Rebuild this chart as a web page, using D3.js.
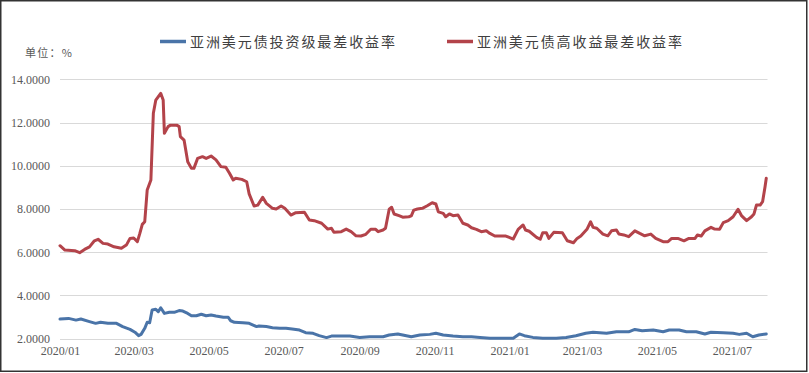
<!DOCTYPE html>
<html>
<head>
<meta charset="utf-8">
<script src="https://cdn.jsdelivr.net/npm/d3@7"></script>
<style>
  body { margin: 0; background: #fff; }
</style>
</head>
<body>
<svg id="chart" width="809" height="373"></svg>
<script>
var seriesNames = ["亚洲美元债投资级最差收益率", "亚洲美元债高收益最差收益率"];
var unitLabel = "单位：%";
var yTicks = [2, 4, 6, 8, 10, 12, 14];

// 投资级 (blue)
var igData = [
  ["2020-01-01", 2.91], ["2020-01-08", 2.94], ["2020-01-14", 2.86], ["2020-01-18", 2.91],
  ["2020-01-25", 2.79], ["2020-01-30", 2.71], ["2020-02-03", 2.76], ["2020-02-09", 2.71],
  ["2020-02-16", 2.71], ["2020-02-21", 2.56], ["2020-02-27", 2.43], ["2020-03-02", 2.30],
  ["2020-03-05", 2.14], ["2020-03-07", 2.20], ["2020-03-10", 2.48], ["2020-03-12", 2.76],
  ["2020-03-14", 2.74], ["2020-03-16", 3.33], ["2020-03-19", 3.36], ["2020-03-21", 3.25],
  ["2020-03-23", 3.43], ["2020-03-26", 3.17], ["2020-03-30", 3.22], ["2020-04-03", 3.22],
  ["2020-04-07", 3.30], ["2020-04-10", 3.28], ["2020-04-14", 3.17], ["2020-04-17", 3.06],
  ["2020-04-21", 3.06], ["2020-04-25", 3.13], ["2020-04-29", 3.06], ["2020-05-03", 3.10],
  ["2020-05-07", 3.05], ["2020-05-13", 2.99], ["2020-05-17", 2.99], ["2020-05-19", 2.83],
  ["2020-05-22", 2.76], ["2020-05-29", 2.74], ["2020-06-03", 2.71], ["2020-06-09", 2.56],
  ["2020-06-11", 2.59], ["2020-06-17", 2.56], ["2020-06-22", 2.51], ["2020-06-28", 2.48],
  ["2020-07-03", 2.48], ["2020-07-08", 2.45], ["2020-07-14", 2.40], ["2020-07-19", 2.28],
  ["2020-07-25", 2.25], ["2020-07-30", 2.14], ["2020-08-05", 2.05], ["2020-08-09", 2.12],
  ["2020-08-15", 2.12], ["2020-08-24", 2.12], ["2020-09-01", 2.06], ["2020-09-09", 2.09],
  ["2020-09-20", 2.09], ["2020-09-25", 2.17], ["2020-10-02", 2.22], ["2020-10-06", 2.17],
  ["2020-10-13", 2.09], ["2020-10-20", 2.17], ["2020-10-28", 2.20], ["2020-11-02", 2.25],
  ["2020-11-08", 2.17], ["2020-11-16", 2.12], ["2020-11-24", 2.09], ["2020-12-01", 2.09],
  ["2020-12-08", 2.06], ["2020-12-16", 2.02], ["2020-12-24", 2.02], ["2021-01-04", 2.02],
  ["2021-01-09", 2.22], ["2021-01-13", 2.14], ["2021-01-20", 2.06], ["2021-01-28", 2.02],
  ["2021-02-08", 2.02], ["2021-02-16", 2.06], ["2021-02-24", 2.14], ["2021-03-04", 2.25],
  ["2021-03-10", 2.30], ["2021-03-21", 2.25], ["2021-03-29", 2.32], ["2021-04-08", 2.32],
  ["2021-04-13", 2.43], ["2021-04-19", 2.37], ["2021-04-28", 2.40], ["2021-05-06", 2.32],
  ["2021-05-11", 2.40], ["2021-05-19", 2.40], ["2021-05-25", 2.32], ["2021-06-02", 2.32],
  ["2021-06-09", 2.22], ["2021-06-14", 2.30], ["2021-06-24", 2.28], ["2021-07-02", 2.25],
  ["2021-07-07", 2.20], ["2021-07-13", 2.25], ["2021-07-18", 2.09], ["2021-07-23", 2.17],
  ["2021-07-29", 2.22]
];

// 高收益 (red)
var hyData = [
  ["2020-01-01", 6.30], ["2020-01-05", 6.10], ["2020-01-13", 6.07], ["2020-01-17", 5.98],
  ["2020-01-21", 6.13], ["2020-01-25", 6.25], ["2020-01-29", 6.53], ["2020-02-01", 6.60],
  ["2020-02-05", 6.41], ["2020-02-09", 6.38], ["2020-02-14", 6.25], ["2020-02-20", 6.18],
  ["2020-02-24", 6.33], ["2020-02-27", 6.64], ["2020-03-01", 6.66], ["2020-03-04", 6.49],
  ["2020-03-06", 6.87], ["2020-03-08", 7.29], ["2020-03-10", 7.41], ["2020-03-12", 8.88],
  ["2020-03-15", 9.34], ["2020-03-17", 12.43], ["2020-03-19", 13.04], ["2020-03-23", 13.35],
  ["2020-03-25", 13.04], ["2020-03-26", 11.50], ["2020-03-29", 11.81], ["2020-03-31", 11.88],
  ["2020-04-05", 11.88], ["2020-04-07", 11.81], ["2020-04-08", 11.35], ["2020-04-11", 11.19],
  ["2020-04-14", 10.19], ["2020-04-17", 9.88], ["2020-04-19", 9.88], ["2020-04-22", 10.34],
  ["2020-04-26", 10.42], ["2020-04-29", 10.34], ["2020-05-03", 10.45], ["2020-05-07", 10.27],
  ["2020-05-11", 9.96], ["2020-05-15", 9.93], ["2020-05-18", 9.65], ["2020-05-21", 9.34],
  ["2020-05-23", 9.42], ["2020-05-28", 9.37], ["2020-06-01", 9.26], ["2020-06-03", 8.70],
  ["2020-06-07", 8.14], ["2020-06-10", 8.18], ["2020-06-14", 8.54], ["2020-06-17", 8.26],
  ["2020-06-22", 8.03], ["2020-06-25", 8.00], ["2020-06-29", 8.14], ["2020-07-02", 8.03],
  ["2020-07-07", 7.72], ["2020-07-11", 7.83], ["2020-07-18", 7.85], ["2020-07-22", 7.49],
  ["2020-07-26", 7.46], ["2020-08-01", 7.34], ["2020-08-06", 7.07], ["2020-08-09", 7.11],
  ["2020-08-11", 6.92], ["2020-08-17", 6.95], ["2020-08-21", 7.07], ["2020-08-25", 6.95],
  ["2020-08-29", 6.76], ["2020-09-02", 6.75], ["2020-09-06", 6.83], ["2020-09-10", 7.06],
  ["2020-09-14", 7.06], ["2020-09-16", 6.95], ["2020-09-20", 7.03], ["2020-09-22", 7.11],
  ["2020-09-25", 7.99], ["2020-09-27", 8.08], ["2020-09-29", 7.77], ["2020-10-03", 7.69],
  ["2020-10-06", 7.62], ["2020-10-11", 7.64], ["2020-10-13", 7.68], ["2020-10-15", 7.95],
  ["2020-10-18", 8.00], ["2020-10-22", 8.03], ["2020-10-26", 8.15], ["2020-10-30", 8.29],
  ["2020-11-02", 8.23], ["2020-11-04", 7.87], ["2020-11-08", 7.80], ["2020-11-10", 7.64],
  ["2020-11-13", 7.77], ["2020-11-16", 7.69], ["2020-11-20", 7.72], ["2020-11-24", 7.34],
  ["2020-11-28", 7.26], ["2020-12-01", 7.13], ["2020-12-05", 7.06], ["2020-12-09", 6.95],
  ["2020-12-13", 6.99], ["2020-12-16", 6.87], ["2020-12-20", 6.75], ["2020-12-29", 6.75],
  ["2021-01-04", 6.61], ["2021-01-08", 7.06], ["2021-01-12", 7.26], ["2021-01-14", 7.03],
  ["2021-01-17", 6.97], ["2021-01-23", 6.69], ["2021-01-26", 6.60], ["2021-01-28", 6.90],
  ["2021-01-31", 6.90], ["2021-02-02", 6.64], ["2021-02-06", 6.92], ["2021-02-13", 6.90],
  ["2021-02-17", 6.53], ["2021-02-22", 6.44], ["2021-02-25", 6.64], ["2021-02-28", 6.75],
  ["2021-03-05", 7.06], ["2021-03-08", 7.41], ["2021-03-10", 7.15], ["2021-03-13", 7.11],
  ["2021-03-18", 6.84], ["2021-03-22", 6.76], ["2021-03-25", 6.99], ["2021-03-29", 7.03],
  ["2021-03-31", 6.84], ["2021-04-04", 6.80], ["2021-04-08", 6.72], ["2021-04-13", 6.99],
  ["2021-04-17", 6.87], ["2021-04-21", 6.76], ["2021-04-26", 6.84], ["2021-04-30", 6.64],
  ["2021-05-06", 6.49], ["2021-05-10", 6.49], ["2021-05-13", 6.64], ["2021-05-18", 6.64],
  ["2021-05-23", 6.53], ["2021-05-27", 6.64], ["2021-06-01", 6.64], ["2021-06-03", 6.80],
  ["2021-06-06", 6.75], ["2021-06-09", 6.99], ["2021-06-14", 7.15], ["2021-06-17", 7.07],
  ["2021-06-21", 7.06], ["2021-06-24", 7.37], ["2021-06-28", 7.46], ["2021-07-02", 7.64],
  ["2021-07-06", 7.99], ["2021-07-09", 7.68], ["2021-07-13", 7.46], ["2021-07-17", 7.64],
  ["2021-07-19", 7.77], ["2021-07-21", 8.18], ["2021-07-24", 8.18], ["2021-07-26", 8.34],
  ["2021-07-28", 9.03], ["2021-07-29", 9.42]
];

var colors = ["#4a74a8", "#b3434a"];

var parseDate = d3.timeParse("%Y-%m-%d");
var svg = d3.select("#chart");

// outer frame
svg.append("rect")
    .attr("x", 0.75).attr("y", 0.75)
    .attr("width", 806).attr("height", 370.5)
    .attr("fill", "#fff")
    .attr("stroke", "#333")
    .attr("stroke-width", 1.5);

var x = d3.scaleTime()
    .domain([parseDate("2020-01-01"), parseDate("2021-07-30")])
    .range([60, 767.5]);
var y = d3.scaleLinear().domain([2, 14]).range([338.7, 79.3]);

// y labels (axis call resets font attrs, so set them afterwards)
var yAxis = svg.append("g")
    .attr("transform", "translate(60,0)")
    .call(d3.axisLeft(y).tickValues(yTicks).tickSize(0).tickPadding(10).tickFormat(d3.format(".4f")))
    .attr("font-family", "'Liberation Serif', 'Times New Roman', serif")
    .attr("font-size", 12);
yAxis.select(".domain").remove();
yAxis.selectAll("text").attr("fill", "#595959");

// gridlines
svg.append("g").selectAll("line")
    .data(yTicks)
  .enter().append("line")
    .attr("x1", 60).attr("x2", 767.5)
    .attr("y1", function(d) { return Math.round(y(d)) + 0.5; })
    .attr("y2", function(d) { return Math.round(y(d)) + 0.5; })
    .attr("stroke", "#d9d9d9")
    .attr("stroke-width", 1);

// x labels
var xAxis = svg.append("g")
    .attr("transform", "translate(0,339)")
    .call(d3.axisBottom(x).ticks(d3.timeMonth.every(2)).tickSize(0).tickPadding(7).tickFormat(d3.timeFormat("%Y/%m")))
    .attr("font-family", "'Liberation Serif', 'Times New Roman', serif")
    .attr("font-size", 12);
xAxis.select(".domain").remove();
xAxis.selectAll("text").attr("fill", "#595959");

var line = d3.line()
    .x(function(d) { return x(parseDate(d[0])); })
    .y(function(d) { return y(d[1]); });

[hyData, igData].forEach(function(data, i) {
  svg.append("path")
      .attr("d", line(data))
      .attr("fill", "none")
      .attr("stroke", colors[1 - i])
      .attr("stroke-width", 3)
      .attr("stroke-linejoin", "round")
      .attr("stroke-linecap", "round");
});

// legend
var legendX = [160, 447];
seriesNames.forEach(function(name, i) {
  svg.append("line")
      .attr("x1", legendX[i]).attr("x2", legendX[i] + 26)
      .attr("y1", 41.5).attr("y2", 41.5)
      .attr("stroke", colors[i])
      .attr("stroke-width", 3.5);
  svg.append("text")
      .attr("x", legendX[i] + 30)
      .attr("y", 46.5)
      .attr("textLength", 205)
      .attr("lengthAdjust", "spacing")
      .attr("font-family", "'Noto Sans CJK SC', sans-serif")
      .attr("font-size", 14)
      .attr("fill", "#404040")
      .text(name);
});

svg.append("text")
    .attr("x", 25)
    .attr("y", 57)
    .attr("textLength", 47)
    .attr("lengthAdjust", "spacing")
    .attr("font-family", "'Noto Sans CJK SC', sans-serif")
    .attr("font-size", 11)
    .attr("fill", "#595959")
    .text(unitLabel);
</script>
</body>
</html>
